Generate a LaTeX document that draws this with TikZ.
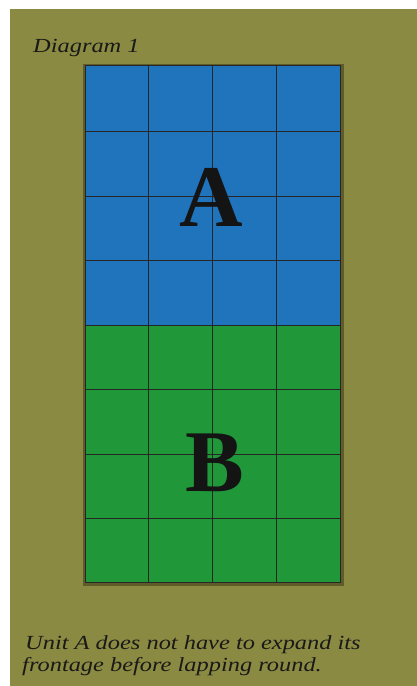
\documentclass[tikz,border=0pt]{standalone}
\usepackage{fontspec}
\setmainfont{Liberation Serif}
\usetikzlibrary{calc}
\definecolor{olivebg}{RGB}{138,138,66}
\definecolor{unitblue}{RGB}{32,116,188}
\definecolor{unitgreen}{RGB}{32,152,58}
\definecolor{shadowcol}{RGB}{96,92,42}
\tikzset{
  gridline/.style={draw=black!85, line width=0.8pt},
  bigletter/.style={font=\fontsize{88}{88}\selectfont\bfseries, text=black!92, inner sep=0pt, anchor=base},
  caption/.style={font=\fontsize{20}{24}\selectfont\itshape, text=black!90, inner sep=0pt, anchor=base west, xscale=1.22},
}
\begin{document}
\begin{tikzpicture}[x=1pt,y=1pt]
\useasboundingbox (0,0) rectangle (417,686);
\fill[white] (0,0) rectangle (417,686);
\fill[olivebg] (10,0) rectangle (417,677);
% shadow
\fill[shadowcol] (83,100) rectangle (344,622);
% blocks
\fill[unitblue] (85,361) rectangle (340,620);
\fill[unitgreen] (85,103) rectangle (340,361);
\foreach \xx in {148.75,212.5,276.25} \draw[gridline] (\xx,103) -- (\xx,620);
\foreach \yy in {167.5,232,296.5,361,425.5,490,554.5} \draw[gridline] (85,\yy) -- (340,\yy);
\draw[gridline, line width=1pt] (85,103) rectangle (340,620);
% labels
\node[bigletter] (A) at (211.5,459) {A};
\node[bigletter] (B) at (214.5,194) {B};
\node[caption] (title) at (33,633) {Diagram 1};
\node[caption] (cap1) at (25,36) {Unit A does not have to expand its};
\node[caption] (cap2) at (22,15) {frontage before lapping round.};
\end{tikzpicture}
\end{document}
